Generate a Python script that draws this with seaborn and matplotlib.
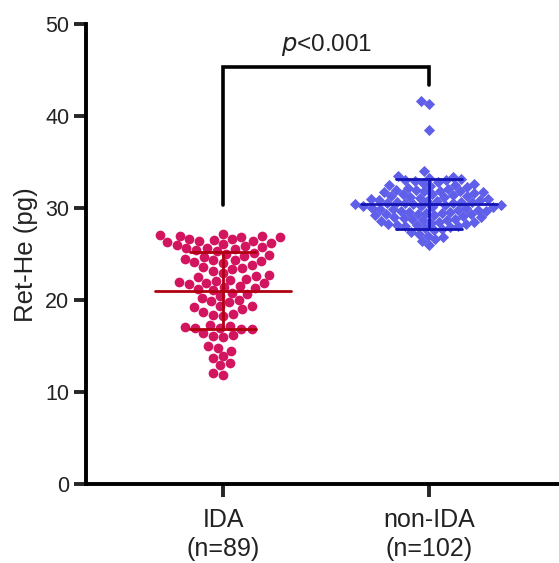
import matplotlib
matplotlib.use("Agg")
import matplotlib.pyplot as plt
import seaborn as sns
import pandas as pd

groups = ["IDA", "non-IDA"]
tick_labels = ["IDA\n(n=89)", "non-IDA\n(n=102)"]

ida_values = [27.2, 27.0, 26.9, 27.1, 26.8, 27.0,
              26.6, 26.4, 26.2, 26.5, 26.3, 26.1, 26.4, 26.6, 26.0,
              25.9, 25.7, 25.5, 25.8, 25.6, 25.4, 25.3,
              25.1, 24.9, 24.7, 25.0, 24.8,
              24.5, 24.3, 24.1, 24.4, 24.2, 24.0,
              23.8, 23.6, 23.4, 23.5, 23.2,
              22.9, 22.7, 22.5, 22.6, 22.3,
              22.2, 22.0, 21.8, 22.1, 21.9, 21.7,
              21.5, 21.3, 21.1, 21.4, 21.2,
              20.8, 20.6, 20.4,
              20.2, 20.0, 19.8, 19.9,
              19.4, 19.2, 19.0, 19.3,
              18.7, 18.5, 18.3, 18.4,
              17.3, 17.1, 16.9, 17.0, 17.2, 16.8, 17.0,
              16.4, 16.2, 16.0, 16.1,
              15.0, 14.8,
              14.5,
              13.9, 13.7,
              13.1, 12.9,
              12.1, 11.9]

non_ida_values = [41.6, 41.3, 38.5, 34.0,
                  33.5, 33.3, 33.1, 33.4,
                  33.0, 32.8, 32.9, 32.7, 33.0, 32.6,
                  32.5, 32.3, 32.4, 32.2, 32.5, 32.1,
                  32.0, 31.8, 31.9, 31.7, 32.0, 31.6, 31.8, 31.7,
                  31.5, 31.3, 31.4, 31.2, 31.5, 31.1, 31.3, 31.2,
                  31.0, 30.8, 30.9, 30.7, 31.0, 30.6, 30.8, 30.7, 30.9,
                  30.5, 30.3, 30.4, 30.2, 30.5, 30.1, 30.3, 30.2, 30.4, 30.5, 30.1,
                  30.0, 29.8, 29.9, 29.7, 30.0, 29.6, 29.8, 29.7, 29.9, 29.6,
                  29.5, 29.3, 29.4, 29.2, 29.5, 29.1, 29.3, 29.2,
                  29.0, 28.8, 28.9, 28.7, 29.0, 28.6, 28.8, 28.7,
                  28.5, 28.3, 28.4, 28.2, 28.5, 28.1, 28.3,
                  28.0, 27.8, 27.9, 27.7, 28.0,
                  27.6, 27.4, 27.2,
                  27.0, 26.8,
                  26.6, 26.4,
                  26.0]

group_means = [21.0, 30.4]
group_sds = [4.2, 2.7]
p_text = "<0.001"

point_colors = ["#D3145F", "#5F5FEA"]
line_colors = ["#B00010", "#1414B4"]
markers = ["o", "D"]
marker_sizes = [7.0, 5.7]

sns.set_style("ticks")
plt.rcParams["font.family"] = ["Liberation Sans", "DejaVu Sans"]

df = pd.DataFrame({
    "group": ["IDA"] * len(ida_values) + ["non-IDA"] * len(non_ida_values),
    "value": ida_values + non_ida_values,
})

fig = plt.figure(figsize=(5.59, 5.63), dpi=100)
ax = fig.add_axes([86 / 559, 79 / 563, 1 - 86 / 559, (484 - 24) / 563])

for i, g in enumerate(groups):
    sub = df[df["group"] == g]
    sns.swarmplot(data=sub, x="group", y="value", order=groups, ax=ax,
                  color=point_colors[i], marker=markers[i], size=marker_sizes[i],
                  linewidth=0, zorder=2, warn_thresh=1.0)

for i in range(len(groups)):
    m, s = group_means[i], group_sds[i]
    c = line_colors[i]
    ax.plot([i - 0.33, i + 0.33], [m, m], color=c, lw=2.0, zorder=4)
    ax.plot([i, i], [m - s, m + s], color=c, lw=2.0, zorder=4)
    ax.plot([i - 0.16, i + 0.16], [m + s, m + s], color=c, lw=2.0, zorder=4)
    ax.plot([i - 0.16, i + 0.16], [m - s, m - s], color=c, lw=2.0, zorder=4)

ax.plot([0, 0, 1, 1], [30.3, 45.3, 45.3, 43.4], color="black", lw=2.6,
        solid_joinstyle="miter", zorder=5)
ax.text(0.5, 47.7, r"$p$" + p_text, ha="center", va="center", fontsize=17.5,
        color="#222222")

ax.set_xlim(-0.665, 1.63)
ax.set_ylim(0, 50)
ax.set_yticks([0, 10, 20, 30, 40, 50])
ax.set_xticks([0, 1])
ax.set_xticklabels(tick_labels, fontsize=18, color="#222222", linespacing=1.3)
ax.tick_params(axis="y", labelsize=15.5, labelcolor="#222222", width=2.8,
               length=9, direction="out", pad=3)
ax.tick_params(axis="x", width=2.8, length=9, direction="out", pad=8)
ax.set_xlabel("")
ax.set_ylabel("Ret-He (pg)", fontsize=18.5, color="#222222")
ax.yaxis.set_label_coords((38 - 86) / 473, (563 - 255 - 79) / 460)
for side in ["top", "right"]:
    ax.spines[side].set_visible(False)
for side in ["left", "bottom"]:
    ax.spines[side].set_linewidth(2.8)
    ax.spines[side].set_color("black")

fig.savefig("out.png", dpi=100)
